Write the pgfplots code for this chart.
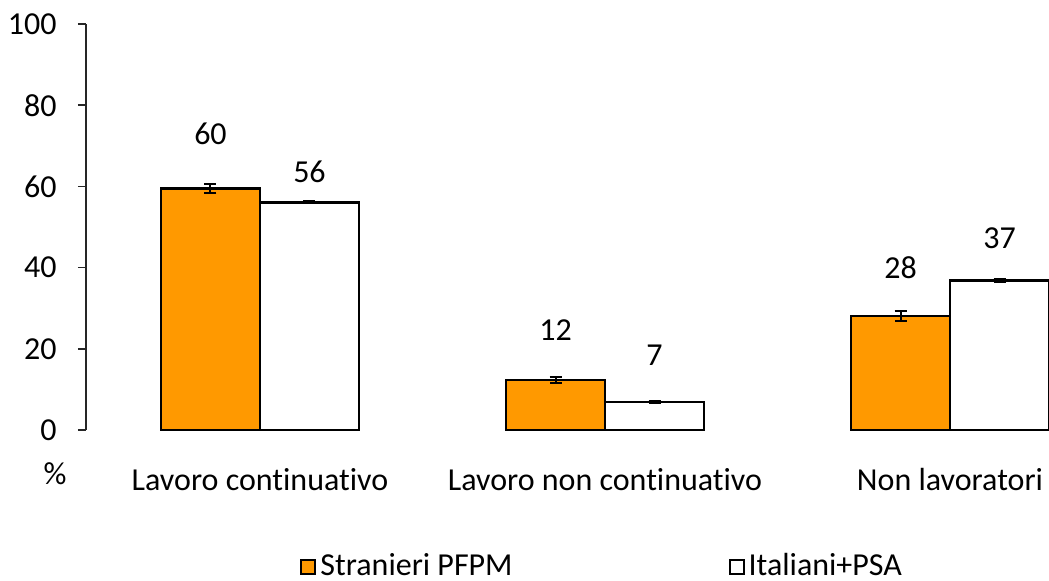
\documentclass[border=0pt]{standalone}
\usepackage{fontspec}
\setmainfont{Carlito}[Ligatures=NoCommon]
\usepackage{pgfplots}
\usepackage{pgfplotstable}
\pgfplotsset{compat=1.18}
\definecolor{barorange}{HTML}{FF9900}

% x, value, error, label text, label offset (pt)
\pgfplotstableread{
x y e lab off
0 59.5 1.2 60 27.5
1 12.3 0.8 12 25
2 28.1 1.2 28 24
}\stranieri
\pgfplotstableread{
x y e lab off
0 56.1 0.3 56 15
1 6.9 0.2 7 23.5
2 36.8 0.3 37 21
}\italiani

\begin{document}
\fontsize{16}{19}\selectfont
\begin{tikzpicture}
\path[use as bounding box] (-43pt,-75.5pt) rectangle (481.5pt,215pt);
\begin{axis}[
    scale only axis,
    width=481pt, height=203pt,
    anchor=south west, at={(0,0)},
    ybar=0pt, bar width=49.5pt,
    xmin=-0.5043, xmax=2.284,
    ymin=0, ymax=100,
    ytick={0,20,...,100},
    xtick={0,1,2},
    xticklabels={Lavoro continuativo, Lavoro non continuativo, Non lavoratori},
    axis lines*=left,
    x axis line style={draw=none},
    y axis line style={line width=0.75pt, black!85},
    ytick style={line width=0.75pt, black!85},
    tick align=outside,
    major tick length=4pt,
    xtick style={draw=none},
    ytick pos=left,
    xtick pos=bottom,
    tick label style={font=\fontsize{16}{19}\selectfont},
    yticklabel style={anchor=east, inner sep=0pt, xshift=-10.5pt},
    xticklabel style={anchor=north, inner sep=0pt, yshift=-15pt},
    /pgf/number format/assume math mode=true,
    ylabel={\%},
    ylabel style={rotate=-90, at={(axis description cs:0,0)}, anchor=center,
        xshift=-15.5pt, yshift=-22pt, inner sep=0pt},
    clip=false,
    error bars/y dir=both,
    error bars/y explicit,
    error bars/error bar style={line width=1pt, black},
    error bars/error mark options={rotate=90, mark size=3pt, line width=1pt, black},
    nodes near coords,
    point meta=explicit symbolic,
    visualization depends on={\thisrow{off} \as \labeloff},
    every node near coord/.append style={anchor=center, yshift=\labeloff pt,
        font=\fontsize{16}{19}\selectfont, black},
    legend columns=2,
    legend style={at={(axis description cs:0.2225,-0.3374)}, anchor=west,
        draw=none, inner sep=0pt, fill=none,
        /tikz/every even column/.append style={column sep=106pt},
        font=\fontsize{16}{19}\selectfont},
    legend image code/.code={\draw[#1, line width=1pt] (0pt,-3.5pt) rectangle (7pt,3.5pt);},
]
\addplot[fill=barorange, draw=black, line width=1.4pt]
    table[x=x, y=y, y error=e, meta=lab] {\stranieri};
\addplot[fill=white, draw=black, line width=1.4pt]
    table[x=x, y=y, y error=e, meta=lab] {\italiani};
\legend{Stranieri PFPM, Italiani+PSA}
\end{axis}
\end{tikzpicture}
\end{document}
